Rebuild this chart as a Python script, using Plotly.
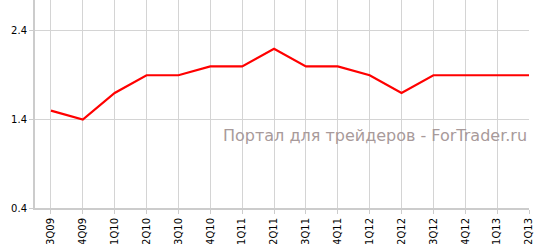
import plotly.graph_objects as go

categories = ["3Q09", "4Q09", "1Q10", "2Q10", "3Q10", "4Q10", "1Q11", "2Q11",
              "3Q11", "4Q11", "1Q12", "2Q12", "3Q12", "4Q12", "1Q13", "2Q13"]
values = [1.5, 1.4, 1.7, 1.9, 1.9, 2.0, 2.0, 2.2, 2.0, 2.0, 1.9, 1.7, 1.9, 1.9, 1.9, 1.9]
y_ticks = [0.4, 1.4, 2.4]
watermark = "Портал для трейдеров - ForTrader.ru"

fig = go.Figure()
fig.add_trace(go.Scatter(
    x=categories, y=values, mode="lines",
    line=dict(color="#ff0000", width=2.2),
    hoverinfo="skip",
))

fig.add_annotation(
    text=watermark, xref="paper", yref="paper",
    x=1.0, y=0.35, xanchor="right", yanchor="middle",
    showarrow=False,
    font=dict(family="DejaVu Sans", size=16, color="#a89a9a"),
)

fig.update_layout(
    width=537, height=244,
    margin=dict(l=35, r=8, t=0, b=36),
    paper_bgcolor="white", plot_bgcolor="white",
    showlegend=False,
    font=dict(family="DejaVu Sans", size=10, color="black"),
)
fig.update_xaxes(
    type="category", range=[-0.5, 15.0],
    showgrid=True, gridcolor="#d4d4d4", gridwidth=1,
    showline=True, linecolor="#cccccc", linewidth=2,
    ticks="outside", ticklen=4, tickcolor="#cccccc",
    tickangle=-90, tickfont=dict(size=10, color="black"),
)
fig.update_yaxes(
    range=[0.4, 2.75], tickvals=y_ticks, ticktext=[f"{v:.1f}" for v in y_ticks],
    showgrid=True, gridcolor="#d4d4d4", gridwidth=1,
    showline=True, linecolor="#cccccc", linewidth=2,
    ticks="outside", ticklen=4, tickcolor="#cccccc",
    zeroline=False, tickfont=dict(size=10, color="black"),
)

fig.write_html("out.html")
